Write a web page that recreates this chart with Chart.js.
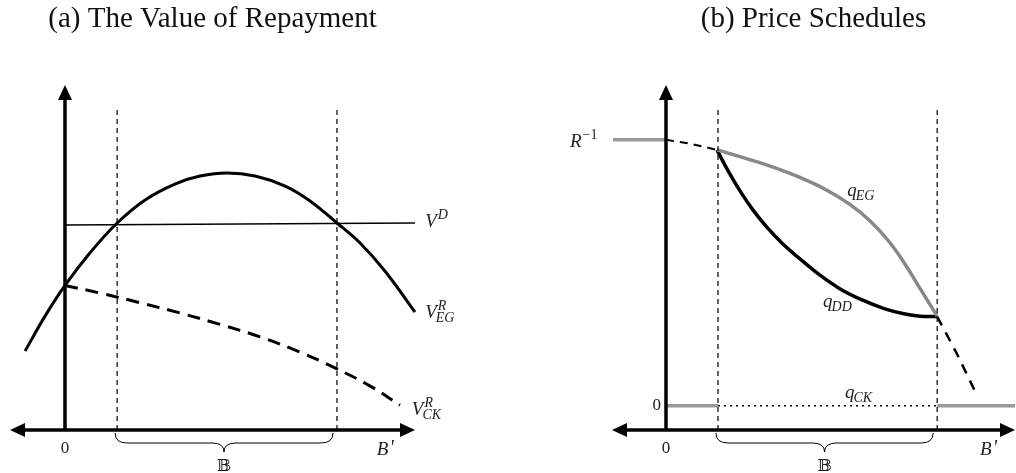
<!DOCTYPE html>
<html>
<head>
<meta charset="utf-8">
<script src="https://cdn.jsdelivr.net/npm/chart.js@4.4.0/dist/chart.umd.min.js"></script>
<style>
  body { margin: 0; background: #fff; }
  .wrap { position: relative; width: 1016px; height: 473px; }
  canvas { position: absolute; top: 0; }
  #chartA { left: 0; }
  #chartB { left: 508px; }
</style>
</head>
<body>
<div class="wrap">
  <canvas id="chartA" width="508" height="473"></canvas>
  <canvas id="chartB" width="508" height="473"></canvas>
</div>
<script>
/* Datos panel (a) ---------------------------------------------------------- */
const egX = [-11.4, -5.7, 0, 7.1, 14.9, 22.9, 31.4, 38.6, 46.3, 54.3, 62.9, 70.0, 77.7, 84.3, 91.4, 100];
const egY = [22.9, 33.0, 41.9, 51.3, 60.0, 66.7, 71.3, 73.6, 74.5, 73.6, 70.7, 66.4, 60.0, 54.2, 46.1, 34.2];
const ckX = [0, 10.0, 21.4, 32.9, 44.3, 55.7, 67.1, 77.1, 87.1, 95.7];
const ckY = [41.9, 39.7, 36.9, 33.9, 30.6, 27.0, 22.6, 18.0, 12.8, 7.2];
const vdX = [0, 100];
const vdY = [59.4, 60.0];

/* Datos panel (b) ---------------------------------------------------------- */
const rInvX = [-15.2, 0];
const rInvY = [84.1, 84.1];
const rfX = [0, 7.4, 14.6];
const rfY = [84.1, 82.9, 81.2];
const qegX = [14.6, 22.6, 30.7, 38.4, 45.6, 52.7, 58.5, 63.6, 67.9, 72.2, 77.7];
const qegY = [81.2, 78.8, 76.2, 73.2, 69.8, 65.4, 60.6, 55.0, 49.0, 42.0, 33.0];
const qddX = [14.6, 17.8, 21.2, 24.9, 28.9, 33.5, 38.4, 44.1, 49.9, 56.2, 62.5, 68.5, 72.8, 77.7];
const qddY = [81.2, 75.1, 69.3, 63.8, 58.8, 53.9, 49.6, 44.9, 40.9, 37.7, 35.2, 33.6, 33.0, 32.9];
const tailX = [77.7, 83.3, 89.1];
const tailY = [32.9, 22.2, 10.1];
const zeroLevel = 7.0;

/* Comunes */
const bBounds = [14.9, 77.7];   // conjunto B
const bTop = 93.6;

function pts(xs, ys) {
    return xs.map((x, i) => ({x: x, y: ys[i]}));
}

function line(data, color, width, dash, curved) {
    return {
        data: data,
        borderColor: color,
        borderWidth: width,
        borderDash: dash || [],
        pointRadius: 0,
        fill: false,
        clip: false,
        tension: curved ? 0.4 : 0,
        borderCapStyle: 'butt',
        borderJoinStyle: 'round'
    };
}

function bLines() {
    return bBounds.map(b => line(pts([b, b], [0, bTop]), '#000', 1.2, [5, 4]));
}

/* Texto matemático ------------------------------------------------------------ */
function mathLabel(ctx, px, py, l) {
    ctx.textAlign = 'left';
    ctx.textBaseline = 'alphabetic';
    ctx.fillStyle = '#222';
    ctx.font = (l.upright ? '' : 'italic ') + '19px "Liberation Serif"';
    ctx.fillText(l.base, px, py);
    const w = ctx.measureText(l.base).width;
    if (l.sup) {
        ctx.font = l.supFont || ((l.supUp ? '' : 'italic ') + '14px "Liberation Serif"');
        const dy = (l.supDy !== undefined) ? l.supDy : -8;
        ctx.fillText(l.sup, px + w + (l.supDx || 1), py + dy);
    }
    if (l.sub) {
        ctx.font = 'italic 14px "Liberation Serif"';
        ctx.fillText(l.sub, px + w - 1, py + 4);
    }
}

function arrowHead(ctx, tx, ty, dir) {
    const L = 15, W = 7;
    ctx.beginPath();
    ctx.moveTo(tx, ty);
    if (dir === 'up') { ctx.lineTo(tx - W, ty + L); ctx.lineTo(tx + W, ty + L); }
    if (dir === 'left') { ctx.lineTo(tx + L, ty - W); ctx.lineTo(tx + L, ty + W); }
    if (dir === 'right') { ctx.lineTo(tx - L, ty - W); ctx.lineTo(tx - L, ty + W); }
    ctx.closePath();
    ctx.fill();
}

/* Ejes, llave y etiquetas ------------------------------------------------------ */
const panelDecor = {
    id: 'panelDecor',
    afterDatasetsDraw(chart, args, opts) {
        const ctx = chart.ctx;
        const a = chart.chartArea;
        const sx = chart.scales.x, sy = chart.scales.y;
        const x0 = sx.getPixelForValue(0), y0 = sy.getPixelForValue(0);
        ctx.save();
        ctx.strokeStyle = '#000';
        ctx.fillStyle = '#000';
        ctx.lineWidth = 3.5;
        ctx.beginPath(); ctx.moveTo(x0, y0); ctx.lineTo(x0, a.top + 12); ctx.stroke();
        ctx.beginPath(); ctx.moveTo(a.left + 12, y0); ctx.lineTo(a.right - 12, y0); ctx.stroke();
        arrowHead(ctx, x0, a.top, 'up');
        arrowHead(ctx, a.left, y0, 'left');
        arrowHead(ctx, a.right, y0, 'right');

        // llave bajo B
        const bx1 = sx.getPixelForValue(bBounds[0]) - 2, bx2 = sx.getPixelForValue(bBounds[1]) - 4;
        const mid = (bx1 + bx2) / 2, t = y0 + 3, m = y0 + 13, tip = y0 + 22;
        ctx.lineWidth = 1;
        ctx.beginPath();
        ctx.moveTo(bx1, t);
        ctx.quadraticCurveTo(bx1, m, bx1 + 12, m);
        ctx.lineTo(mid - 12, m);
        ctx.quadraticCurveTo(mid, m, mid, tip);
        ctx.quadraticCurveTo(mid, m, mid + 12, m);
        ctx.lineTo(bx2 - 12, m);
        ctx.quadraticCurveTo(bx2, m, bx2, t);
        ctx.stroke();
        ctx.fillStyle = '#222';
        ctx.font = '17px "DejaVu Serif", "DejaVu Sans"';
        ctx.textAlign = 'center';
        ctx.fillText('\u{1D539}', mid, y0 + 41);

        ctx.font = '17px "Liberation Serif"';
        ctx.fillText('0', x0, y0 + 23);

        opts.labels.forEach(l => {
            const px = sx.getPixelForValue(l.x), py = sy.getPixelForValue(l.y);
            if (l.right) {
                ctx.font = '17px "Liberation Serif"';
                ctx.textAlign = 'right';
                ctx.fillText(l.base, px, py);
            } else {
                mathLabel(ctx, px, py, l);
            }
        });
        ctx.restore();
    }
};

function makeChart(id, title, datasets, labels, padLeft, padRight, xMin) {
    return new Chart(document.getElementById(id), {
        type: 'line',
        data: {datasets: datasets},
        options: {
            responsive: false,
            animation: false,
            layout: {padding: {left: padLeft, right: padRight, top: 0, bottom: 43}},
            scales: {
                x: {type: 'linear', min: xMin, max: 100, display: false},
                y: {type: 'linear', min: 0, max: 100, display: false}
            },
            plugins: {
                legend: {display: false},
                tooltip: {enabled: false},
                title: {
                    display: true,
                    text: title,
                    color: '#111',
                    font: {family: 'Liberation Serif', size: 29, weight: 'normal'},
                    padding: {top: 2, bottom: 48.2}
                },
                panelDecor: {labels: labels}
            }
        },
        plugins: [panelDecor]
    });
}

const primeFont = 'italic 20px "Liberation Serif"';

/* Panel (a) */
makeChart('chartA', '(a) The Value of Repayment', [
    ...bLines(),
    line(pts(vdX, vdY), '#000', 1.5),
    line(pts(ckX, ckY), '#000', 3, [13, 8], true),
    line(pts(egX, egY), '#000', 3, [], true)
], [
    {x: 102.9, y: 58.8, base: 'V', sup: 'D'},
    {x: 102.9, y: 32.5, base: 'V', sup: 'R', sub: 'EG'},
    {x: 99.1, y: 4.3, base: 'V', sup: 'R', sub: 'CK'},
    {x: 89.1, y: -7.2, base: 'B', sup: '\'', supFont: primeFont, supDx: 1, supDy: -1}
], 10, 93, -15.71);

/* Panel (b) */
makeChart('chartB', '(b) Price Schedules', [
    ...bLines(),
    line(pts([0, bBounds[0]], [zeroLevel, zeroLevel]), '#999', 3.5),
    line(pts([bBounds[0], bBounds[1]], [zeroLevel, zeroLevel]), '#000', 1.5, [2, 4]),
    line(pts([bBounds[1], 100], [zeroLevel, zeroLevel]), '#999', 3.5),
    line(pts(rInvX, rInvY), '#999', 3.5),
    line(pts(rfX, rfY), '#000', 2, [8, 6]),
    line(pts(tailX, tailY), '#000', 2.5, [10, 8]),
    line(pts(qegX, qegY), '#888', 3.5, [], true),
    line(pts(qddX, qddY), '#000', 3.5, [], true)
], [
    {x: -27.5, y: 82.0, base: 'R', sup: '\u22121', supUp: true},
    {x: 51.9, y: 67.8, base: 'q', sub: 'EG'},
    {x: 45.0, y: 35.6, base: 'q', sub: 'DD'},
    {x: 51.3, y: 9.3, base: 'q', sub: 'CK'},
    {x: -1.4, y: 5.8, base: '0', right: true},
    {x: 90.0, y: -7.2, base: 'B', sup: '\'', supFont: primeFont, supDx: 1, supDy: -1}
], 104, 1, -15.47);
</script>
</body>
</html>
